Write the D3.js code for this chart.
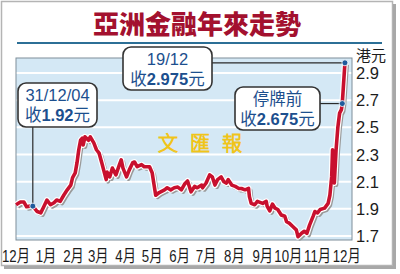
<!DOCTYPE html>
<html>
<head>
<meta charset="utf-8">
<script src="https://cdn.jsdelivr.net/npm/d3@7"></script>
<style>
  html, body { margin: 0; padding: 0; background: #fff; }
  svg { display: block; }
</style>
</head>
<body>
<svg id="chart" width="400" height="274"></svg>
<script>
// ---- data ----
const title = "亞洲金融年來走勢";
const unitLabel = "港元";

const dates = [
  "2004-12-12","2004-12-17","2004-12-21","2004-12-24","2004-12-28","2004-12-31",
  "2005-01-05","2005-01-09","2005-01-12","2005-01-16","2005-01-20","2005-01-24","2005-01-27","2005-01-31",
  "2005-02-04","2005-02-08","2005-02-12","2005-02-14","2005-02-17","2005-02-19","2005-02-21","2005-02-23","2005-02-25","2005-02-26","2005-02-28",
  "2005-03-04","2005-03-06","2005-03-10","2005-03-13","2005-03-16","2005-03-19","2005-03-22","2005-03-24","2005-03-25","2005-03-28","2005-03-31",
  "2005-04-04","2005-04-08","2005-04-10","2005-04-12","2005-04-16","2005-04-19","2005-04-23","2005-04-25","2005-04-28",
  "2005-05-03","2005-05-06","2005-05-12","2005-05-15","2005-05-18","2005-05-19","2005-05-23","2005-05-29",
  "2005-06-01","2005-06-05","2005-06-09","2005-06-13","2005-06-17","2005-06-21","2005-06-24","2005-06-28",
  "2005-07-02","2005-07-05","2005-07-10","2005-07-11","2005-07-15","2005-07-19","2005-07-22","2005-07-25","2005-07-28",
  "2005-08-01","2005-08-04","2005-08-07","2005-08-09","2005-08-13","2005-08-17","2005-08-21","2005-08-24","2005-08-28",
  "2005-09-01","2005-09-02","2005-09-04","2005-09-08","2005-09-11","2005-09-17","2005-09-21","2005-09-22","2005-09-25","2005-09-28",
  "2005-10-01","2005-10-04","2005-10-08","2005-10-12","2005-10-14","2005-10-17","2005-10-21","2005-10-25","2005-10-27","2005-10-31",
  "2005-11-03","2005-11-06","2005-11-09","2005-11-13","2005-11-15","2005-11-18","2005-11-21","2005-11-26","2005-11-30",
  "2005-12-02","2005-12-04","2005-12-05","2005-12-06","2005-12-07","2005-12-09","2005-12-11","2005-12-13","2005-12-15","2005-12-16","2005-12-19"
];

const prices = [
  1.93, 1.95, 1.95, 1.915, 1.92, 1.92,
  1.88, 1.87, 1.91, 1.965, 1.93, 1.945, 1.965, 1.955,
  2.0, 2.04, 2.075, 2.13, 2.165, 2.24, 2.335, 2.405, 2.42, 2.37, 2.43,
  2.405, 2.43, 2.385, 2.335, 2.31, 2.24, 2.165, 2.115, 2.17, 2.135, 2.2,
  2.15, 2.225, 2.26, 2.2, 2.135, 2.185, 2.24, 2.245, 2.21,
  2.225, 2.21, 2.21, 2.165, 2.04, 2.0, 2.02, 2.04,
  2.055, 2.04, 2.055, 2.06, 2.04, 2.085, 2.105, 2.025,
  2.065, 2.055, 2.075, 2.055, 2.09, 2.15, 2.135, 2.075, 2.115,
  2.135, 2.1, 2.09, 2.115, 2.075, 2.065, 2.05, 2.05, 2.04,
  2.05, 1.99, 1.94, 1.93, 1.955, 1.94, 1.955, 1.92, 1.885, 1.935,
  1.905, 1.895, 1.855, 1.845, 1.805, 1.795, 1.77, 1.745, 1.695, 1.72,
  1.735, 1.72, 1.78, 1.845, 1.88, 1.87, 1.895, 1.905, 1.94,
  2.0, 2.135, 2.335, 2.135, 2.09, 2.335, 2.5, 2.605, 2.63, 2.675, 2.975
];

const monthLabels = ["12月","1月","2月","3月","4月","5月","6月","7月","8月","9月","10月","11月","12月"];
const monthMids = ["2004-12-12","2005-01-15","2005-02-15","2005-03-15","2005-04-15","2005-05-15","2005-06-15",
                   "2005-07-15","2005-08-16","2005-09-17","2005-10-16","2005-11-18","2005-12-21"];
const yTicks = [1.7, 1.9, 2.1, 2.3, 2.5, 2.7, 2.9];

// callouts
const calloutDates = ["2004-12-31", "2005-12-19", "2005-12-16"];
const calloutValues = [1.92, 2.975, 2.675];
const calloutHeads = ["31/12/04", "19/12", "停牌前"];
const calloutNums = ["1.92", "2.975", "2.675"];

// ---- drawing ----
const parse = d3.timeParse("%Y-%m-%d");
const data = dates.map((d, i) => ({ date: parse(d), v: prices[i] }));

const plot = { left: 16, right: 352, top: 58, bottom: 240 };
const latin = "'Liberation Sans', Arial, 'Noto Sans CJK TC', sans-serif";

const x = d3.scaleTime()
  .domain([parse("2004-12-12"), parse("2005-12-27")])
  .range([plot.left, plot.right]);
const y = d3.scaleLinear()
  .domain([1.7, 2.9])
  .range([236, 73]);

const svg = d3.select("#chart");

// outer frame with a little shadow on right / bottom
svg.append("rect")
  .attr("x", 1.5).attr("y", 1.5).attr("width", 391).attr("height", 264)
  .attr("fill", "#fff").attr("stroke", "#b4b4b4").attr("stroke-width", 1.5);
svg.append("path")
  .attr("d", "M394.5,4 V267.5 H4")
  .attr("fill", "none").attr("stroke", "#a8a8a8").attr("stroke-width", 3);

// title
svg.append("text")
  .attr("x", 197).attr("y", 34)
  .attr("text-anchor", "middle")
  .attr("font-family", "'Noto Sans CJK TC', sans-serif")
  .attr("font-weight", 900)
  .attr("font-size", 26)
  .attr("fill", "#a3112f")
  .text(title);
svg.append("line")
  .attr("x1", 17).attr("x2", 382).attr("y1", 43).attr("y2", 43)
  .attr("stroke", "#2c6f96").attr("stroke-width", 2);

// plot background
svg.append("rect")
  .attr("x", plot.left).attr("y", plot.top)
  .attr("width", plot.right - plot.left).attr("height", plot.bottom - plot.top)
  .attr("fill", "#d4e8f5");

// gridlines
svg.append("g")
  .selectAll("line")
  .data(yTicks)
  .join("line")
  .attr("x1", plot.left).attr("x2", plot.right)
  .attr("y1", d => y(d)).attr("y2", d => y(d))
  .attr("stroke", "#fff").attr("stroke-width", 2);

// plot border
svg.append("rect")
  .attr("x", plot.left).attr("y", plot.top)
  .attr("width", plot.right - plot.left).attr("height", plot.bottom - plot.top)
  .attr("fill", "none").attr("stroke", "#7f8e99").attr("stroke-width", 1);

// watermark (outlined yellow)
svg.append("text")
  .attr("x", 158).attr("y", 151)
  .attr("font-family", "'Noto Sans CJK TC', sans-serif")
  .attr("font-weight", 300)
  .attr("font-size", 20)
  .attr("letter-spacing", 12)
  .attr("fill", "#fdf8dc")
  .attr("stroke", "#f0c419").attr("stroke-width", 1)
  .text("文匯報");

// price line: shadow, halo, red
const line = d3.line().x(d => x(d.date)).y(d => y(d.v));
svg.append("path")
  .datum(data)
  .attr("d", line)
  .attr("transform", "translate(2,2)")
  .attr("fill", "none").attr("stroke", "#9a9a9a").attr("stroke-width", 4)
  .attr("stroke-linejoin", "round");
svg.append("path")
  .datum(data)
  .attr("d", line)
  .attr("fill", "none").attr("stroke", "#fff").attr("stroke-width", 6)
  .attr("stroke-linejoin", "round");
svg.append("path")
  .datum(data)
  .attr("d", line)
  .attr("fill", "none").attr("stroke", "#c8102e").attr("stroke-width", 3.6)
  .attr("stroke-linejoin", "round");

// y axis labels
svg.append("g")
  .selectAll("text")
  .data(yTicks)
  .join("text")
  .attr("x", 356)
  .attr("y", d => y(d) + 6)
  .attr("font-family", latin)
  .attr("font-size", 16.5)
  .attr("fill", "#1c1c1c")
  .text(d => d.toFixed(1));
svg.append("text")
  .attr("x", 356).attr("y", 61)
  .attr("font-family", "'Noto Sans CJK TC', sans-serif")
  .attr("font-size", 15)
  .attr("fill", "#1c1c1c")
  .text(unitLabel);

// x axis month labels (condensed look)
svg.append("g")
  .selectAll("text")
  .data(monthLabels)
  .join("text")
  .attr("transform", (d, i) => `translate(${x(parse(monthMids[i]))},262) scale(0.78,1)`)
  .attr("text-anchor", "middle")
  .attr("font-family", latin)
  .attr("font-size", 17)
  .attr("fill", "#1c1c1c")
  .text(d => d);

// callouts
const boxes = [
  { x: 18, y: 83, w: 79, h: 44, lead: "down" },
  { x: 123, y: 47, w: 89, h: 43, lead: "right" },
  { x: 235, y: 87, w: 85, h: 43, lead: "right" }
];
const blue = "#1c4f8e";

calloutDates.forEach((ds, i) => {
  const b = boxes[i];
  const px = x(parse(ds)), py = y(calloutValues[i]);
  const g = svg.append("g");

  if (b.lead === "down") {
    g.append("line").attr("x1", px).attr("x2", px).attr("y1", b.y + b.h).attr("y2", py)
      .attr("stroke", "#2a2a2a").attr("stroke-width", 1.2);
  } else {
    g.append("line").attr("x1", b.x + b.w).attr("x2", px).attr("y1", py).attr("y2", py)
      .attr("stroke", "#2a2a2a").attr("stroke-width", 1.2);
  }
  g.append("circle").attr("cx", px).attr("cy", py).attr("r", 3)
    .attr("fill", "#1e5a9c").attr("stroke", "#fff").attr("stroke-width", 0.8);

  g.append("rect")
    .attr("x", b.x).attr("y", b.y).attr("width", b.w).attr("height", b.h)
    .attr("rx", 8).attr("fill", "#fff")
    .attr("stroke", "#333").attr("stroke-width", 1.6);

  const cx = b.x + b.w / 2;
  g.append("text")
    .attr("x", cx).attr("y", b.y + 18)
    .attr("text-anchor", "middle")
    .attr("font-family", latin).attr("font-size", 16.5)
    .attr("fill", blue)
    .text(calloutHeads[i]);

  const t = g.append("text")
    .attr("x", cx).attr("y", b.y + 38)
    .attr("text-anchor", "middle")
    .attr("font-family", latin).attr("font-size", 16.5)
    .attr("fill", blue);
  t.append("tspan").text("收");
  t.append("tspan").attr("font-weight", "bold").text(calloutNums[i]);
  t.append("tspan").text("元");
});
</script>
</body>
</html>
